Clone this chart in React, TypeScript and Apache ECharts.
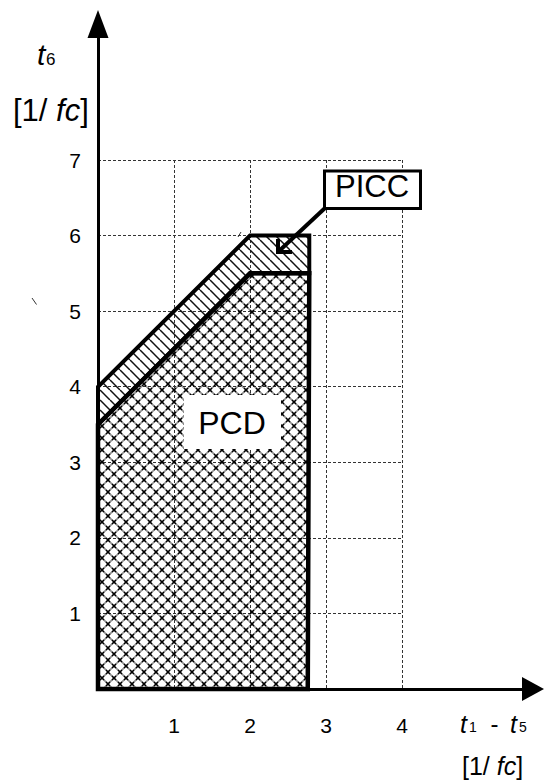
import React, { useEffect, useRef } from 'react';
import * as echarts from 'echarts';

// ---------- data ----------
const xTicks = [1, 2, 3, 4];
const yTicks = [1, 2, 3, 4, 5, 6, 7];
const xRange = [0, 4];
const yRange = [0, 7];
// PCD region (cross-hatched)
const pcdX = [0, 0, 2, 2.78, 2.76];
const pcdY = [0, 3.5, 5.5, 5.5, 0];
// PICC region (diagonal hatched band)
const piccX = [0, 0, 2, 2.78, 2.78, 2];
const piccY = [3.5, 4, 6, 6, 5.5, 5.5];
const regionNames = ['PCD', 'PICC'];

const FONT = '"Liberation Sans", Arial, Helvetica, sans-serif';

function makeCrossPattern(): HTMLCanvasElement {
  const s = 12;
  const c = document.createElement('canvas');
  c.width = s;
  c.height = s;
  const g = c.getContext('2d')!;
  g.strokeStyle = 'rgba(0,0,0,0.45)';
  g.lineWidth = 1.6;
  for (const off of [-s, 0, s]) {
    g.beginPath();
    g.moveTo(off, 0);
    g.lineTo(off + s, s);
    g.stroke();
    g.beginPath();
    g.moveTo(off + s, 0);
    g.lineTo(off, s);
    g.stroke();
  }
  g.strokeStyle = '#000';
  g.lineWidth = 1.3;
  const pts = [[0, 0], [s, 0], [0, s], [s, s], [s / 2, s / 2]];
  for (const [px, py] of pts) {
    g.beginPath();
    g.moveTo(px - 2, py - 2);
    g.lineTo(px + 2, py + 2);
    g.moveTo(px + 2, py - 2);
    g.lineTo(px - 2, py + 2);
    g.stroke();
  }
  return c;
}

function makeHatchPattern(): HTMLCanvasElement {
  const s = 10;
  const c = document.createElement('canvas');
  c.width = s;
  c.height = s;
  const g = c.getContext('2d')!;
  g.strokeStyle = '#111';
  g.lineWidth = 1.5;
  for (const off of [-s, 0, s]) {
    g.beginPath();
    g.moveTo(off, 0);
    g.lineTo(off + s, s);
    g.stroke();
  }
  return c;
}

function txt(text: string, x: number, y: number, size: number, italic = false, align = 'left') {
  return {
    type: 'text',
    x,
    y,
    z: 100,
    style: {
      text,
      fill: '#000',
      fontSize: size,
      fontFamily: FONT,
      fontStyle: italic ? 'italic' : 'normal',
      align,
      textAlign: align,
      verticalAlign: 'middle',
      textVerticalAlign: 'middle',
    },
  };
}

export default function App() {
  const ref = useRef<HTMLDivElement>(null);

  useEffect(() => {
    if (!ref.current) return;
    const chart = echarts.init(ref.current, undefined, { renderer: 'svg' });
    const cross = makeCrossPattern();
    const hatch = makeHatchPattern();

    const polyRender = (xs: number[], ys: number[], img: HTMLCanvasElement, lw: number) =>
      (params: any, api: any) => {
        if (params.dataIndex !== 0) return { type: 'group', children: [] };
        const points = xs.map((x, i) => api.coord([x, ys[i]]));
        return {
          type: 'polygon',
          shape: { points },
          style: {
            fill: { image: img, repeat: 'repeat', imageWidth: img.width, imageHeight: img.height },
            stroke: '#000',
            lineWidth: lw,
            lineJoin: 'miter',
          },
        };
      };

    const gridLine = { show: true, lineStyle: { type: [3, 2], color: '#333', width: 1 } };

    const option: any = {
      animation: false,
      backgroundColor: '#ffffff',
      grid: [
        { left: 98, top: 160, width: 304, height: 529, outerBoundsMode: 'none' },
        { left: 98, top: 24, width: 435, height: 665, outerBoundsMode: 'none' },
      ],
      xAxis: [
        {
          gridIndex: 0,
          type: 'value',
          min: xRange[0],
          max: xRange[1],
          interval: 1,
          axisLine: { show: false },
          axisTick: { show: false },
          splitLine: gridLine,
          axisLabel: {
            margin: 26,
            fontSize: 21,
            color: '#000',
            fontFamily: FONT,
            formatter: (v: number) => (xTicks.includes(v) ? String(v) : ''),
          },
        },
        {
          gridIndex: 1,
          type: 'value',
          min: 0,
          max: 1,
          axisLine: {
            show: true,
            onZero: false,
            symbol: ['none', 'triangle'],
            symbolSize: [24, 22],
            lineStyle: { color: '#000', width: 3 },
          },
          axisTick: { show: false },
          axisLabel: { show: false },
          splitLine: { show: false },
        },
      ],
      yAxis: [
        {
          gridIndex: 0,
          type: 'value',
          min: yRange[0],
          max: yRange[1],
          interval: 1,
          axisLine: { show: false },
          axisTick: { show: false },
          splitLine: gridLine,
          axisLabel: {
            margin: 17,
            fontSize: 21,
            color: '#000',
            fontFamily: FONT,
            formatter: (v: number) => (yTicks.includes(v) ? String(v) : ''),
          },
        },
        {
          gridIndex: 1,
          type: 'value',
          min: 0,
          max: 1,
          axisLine: {
            show: true,
            onZero: false,
            symbol: ['none', 'triangle'],
            symbolSize: [21, 28],
            lineStyle: { color: '#000', width: 3 },
          },
          axisTick: { show: false },
          axisLabel: { show: false },
          splitLine: { show: false },
        },
      ],
      series: [
        {
          type: 'custom',
          name: regionNames[1],
          xAxisIndex: 0,
          yAxisIndex: 0,
          silent: true,
          z: 3,
          data: piccX.map((x, i) => [x, piccY[i]]),
          renderItem: polyRender(piccX, piccY, hatch, 4),
        },
        {
          type: 'custom',
          name: regionNames[0],
          xAxisIndex: 0,
          yAxisIndex: 0,
          silent: true,
          z: 4,
          data: pcdX.map((x, i) => [x, pcdY[i]]),
          renderItem: polyRender(pcdX, pcdY, cross, 4.5),
        },
      ],
      graphic: [
        // y-axis title
        txt('t', 37, 54.5, 30, true),
        txt('6', 46, 59.5, 17),
        {
          type: 'text',
          x: 13,
          y: 110,
          z: 100,
          style: {
            text: '[1/ {i|fc}]',
            fill: '#000',
            fontSize: 31,
            fontFamily: FONT,
            align: 'left',
            textAlign: 'left',
            verticalAlign: 'middle',
            textVerticalAlign: 'middle',
            rich: { i: { fontStyle: 'italic', fontSize: 31, fontFamily: FONT } },
          },
        },
        // x-axis title
        txt('t', 460, 723.6, 25, true),
        txt('1', 469, 727.3, 14),
        txt('-', 490.5, 723.6, 24),
        txt('t', 510, 723.6, 25, true),
        txt('5', 519, 727.3, 14),
        {
          type: 'text',
          x: 462,
          y: 766,
          z: 100,
          style: {
            text: '[1/ {i|fc}]',
            fill: '#000',
            fontSize: 25,
            fontFamily: FONT,
            align: 'left',
            textAlign: 'left',
            verticalAlign: 'middle',
            textVerticalAlign: 'middle',
            rich: { i: { fontStyle: 'italic', fontSize: 25, fontFamily: FONT } },
          },
        },
        // PCD label
        {
          type: 'rect',
          z: 90,
          shape: { x: 184, y: 395, width: 97, height: 54 },
          style: { fill: '#fff', stroke: 'none' },
        },
        txt(regionNames[0], 232, 423, 32, false, 'center'),
        // PICC label with leader
        {
          type: 'polyline',
          z: 90,
          shape: { points: [[324.5, 208.5], [278, 252]] },
          style: { stroke: '#000', lineWidth: 4, fill: 'none' },
        },
        {
          type: 'polyline',
          z: 90,
          shape: { points: [[278, 239], [278, 252], [292, 252]] },
          style: { stroke: '#000', lineWidth: 4, fill: 'none', lineJoin: 'miter' },
        },
        {
          type: 'rect',
          z: 91,
          shape: { x: 324.5, y: 171, width: 96, height: 37.5 },
          style: { fill: '#fff', stroke: '#000', lineWidth: 3 },
        },
        txt(regionNames[1], 372, 186.5, 31, false, 'center'),
        // small stray marks
        {
          type: 'line',
          z: 90,
          shape: { x1: 32, y1: 298, x2: 36.5, y2: 304.5 },
          style: { stroke: '#333', lineWidth: 1 },
        },
        {
          type: 'line',
          z: 90,
          shape: { x1: 238, y1: 237, x2: 241, y2: 232 },
          style: { stroke: '#333', lineWidth: 1 },
        },
      ],
    };

    chart.setOption(option);
    return () => chart.dispose();
  }, []);

  return (
    <div
      ref={ref}
      style={{ position: 'absolute', left: 0, top: 0, width: 544, height: 784, background: '#fff' }}
    />
  );
}
